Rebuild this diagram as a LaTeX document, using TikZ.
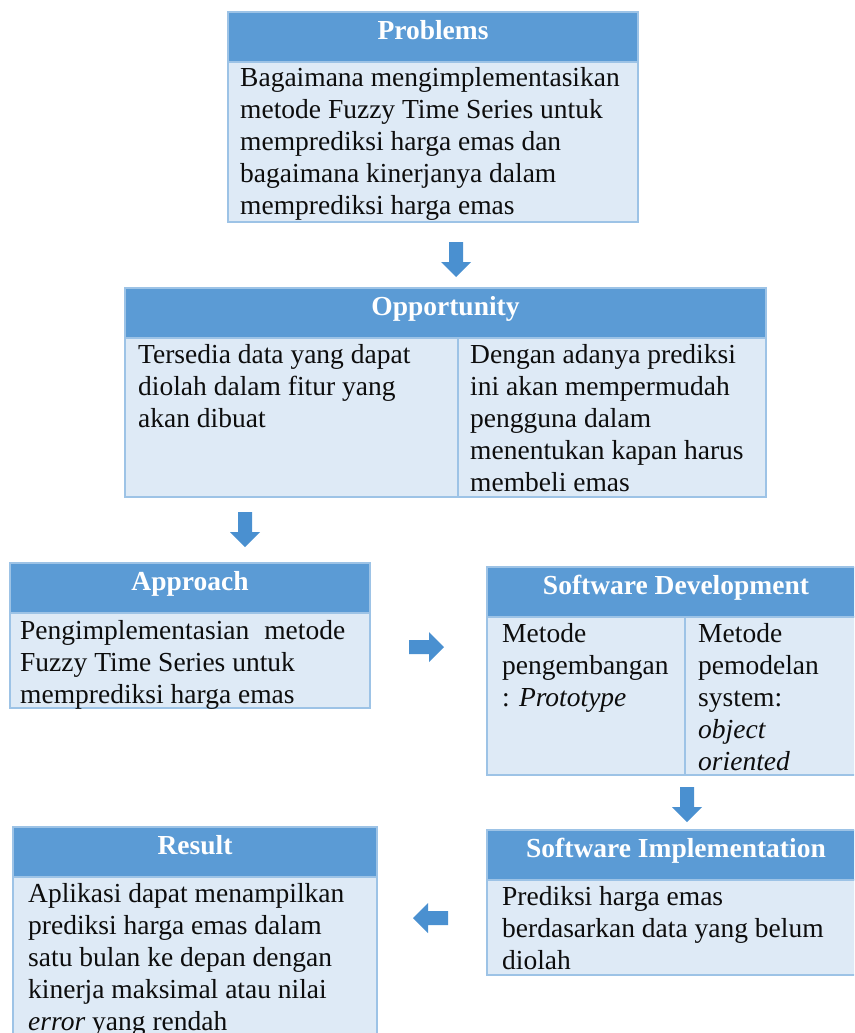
\documentclass[tikz,border=0pt]{standalone}
\usepackage{fontspec}
\setmainfont{Liberation Serif}
\definecolor{hdrblue}{HTML}{5B9BD5}
\definecolor{bodyblue}{HTML}{DEEAF6}
\definecolor{edgeblue}{HTML}{9DC3E6}
\definecolor{arrblue}{HTML}{4A90D0}
\tikzset{
  hdr/.style={draw=edgeblue, line width=1.2pt, fill=hdrblue, anchor=north west, inner sep=0pt, outer sep=0pt, text=white, text height=18pt, text depth=13pt, font=\fontsize{27.5}{32}\selectfont\bfseries},
  bodybox/.style={draw=edgeblue, line width=1.2pt, fill=bodyblue, anchor=north west, inner sep=0pt, outer sep=0pt},
  txt/.style={anchor=north west, inner sep=0pt, align=left, font=\fontsize{27.5}{32}\selectfont, text=black!95},
  divider/.style={draw=edgeblue, line width=1.2pt},
  blockarrow/.pic={\fill[arrblue] (-17,-7) -- (3,-7) -- (3,-15) -- (18,0) -- (3,15) -- (3,7) -- (-17,7) -- cycle;}
}
\begin{document}
\begin{tikzpicture}[x=1pt,y=-1pt]
\useasboundingbox (0,0) rectangle (854,1033);
\clip (0,0) rectangle (854,1033);

% Problems
\node[hdr, minimum width=410pt, minimum height=50pt] (probH) at (228,12) {Problems};
\node[bodybox, minimum width=410pt, minimum height=160pt] (probB) at (228,62) {};
\node[txt] (probT) at (240,64) {\strut Bagaimana mengimplementasikan\\ metode Fuzzy Time Series untuk\\ memprediksi harga emas dan\\ bagaimana kinerjanya dalam\\ memprediksi harga emas};

\pic[rotate=-90] at (456,259) {blockarrow};

% Opportunity
\node[hdr, minimum width=641pt, minimum height=50pt] (oppH) at (125,288) {Opportunity};
\node[bodybox, minimum width=641pt, minimum height=159pt] (oppB) at (125,338) {};
\coordinate (oppD1) at (458,338);
\coordinate (oppD2) at (458,497);
\draw[divider] (oppD1) -- (oppD2);
\node[txt] (oppT1) at (138,341) {\strut Tersedia data yang dapat\\ diolah dalam fitur yang\\ akan dibuat};
\node[txt] (oppT2) at (470,341) {\strut Dengan adanya prediksi\\ ini akan mempermudah\\ pengguna dalam\\ menentukan kapan harus\\ membeli emas};

\pic[rotate=-90] at (245,529) {blockarrow};

% Approach
\node[hdr, minimum width=360pt, minimum height=50pt] (appH) at (10,563) {Approach};
\node[bodybox, minimum width=360pt, minimum height=95pt] (appB) at (10,613) {};
\node[txt] (appT) at (20,617) {\strut\hbox to 325pt{Pengimplementasian\hfill metode}\\ Fuzzy Time Series untuk\\ memprediksi harga emas};

\pic at (426,647) {blockarrow};

% Software Development
\node[hdr, minimum width=370pt, minimum height=50pt] (sdH) at (487,567) {\hspace*{8pt}Software Development};
\node[bodybox, minimum width=370pt, minimum height=158pt] (sdB) at (487,617) {};
\coordinate (sdD1) at (685,617);
\coordinate (sdD2) at (685,775);
\draw[divider] (sdD1) -- (sdD2);
\node[txt] (sdT1) at (502,620) {\strut Metode\\ pengembangan\\ : \textit{Prototype}};
\node[txt] (sdT2) at (698,620) {\strut Metode\\ pemodelan\\ system:\\ \textit{object}\\ \textit{oriented}};

\pic[rotate=-90] at (687,804) {blockarrow};

% Software Implementation
\node[hdr, minimum width=370pt, minimum height=50pt] (siH) at (487,830) {\hspace*{8pt}Software Implementation};
\node[bodybox, minimum width=370pt, minimum height=95pt] (siB) at (487,880) {};
\node[txt] (siT) at (502,883) {\strut Prediksi harga emas\\ berdasarkan data yang belum\\ diolah};

\pic[rotate=180] at (431,918) {blockarrow};

% Result
\node[hdr, minimum width=364pt, minimum height=50pt] (resH) at (13,827) {Result};
\node[bodybox, minimum width=364pt, minimum height=170pt] (resB) at (13,877) {};
\node[txt] (resT) at (28,880) {\strut Aplikasi dapat menampilkan\\ prediksi harga emas dalam\\ satu bulan ke depan dengan\\ kinerja maksimal atau nilai\\ \textit{error} yang rendah};
\end{tikzpicture}
\end{document}
